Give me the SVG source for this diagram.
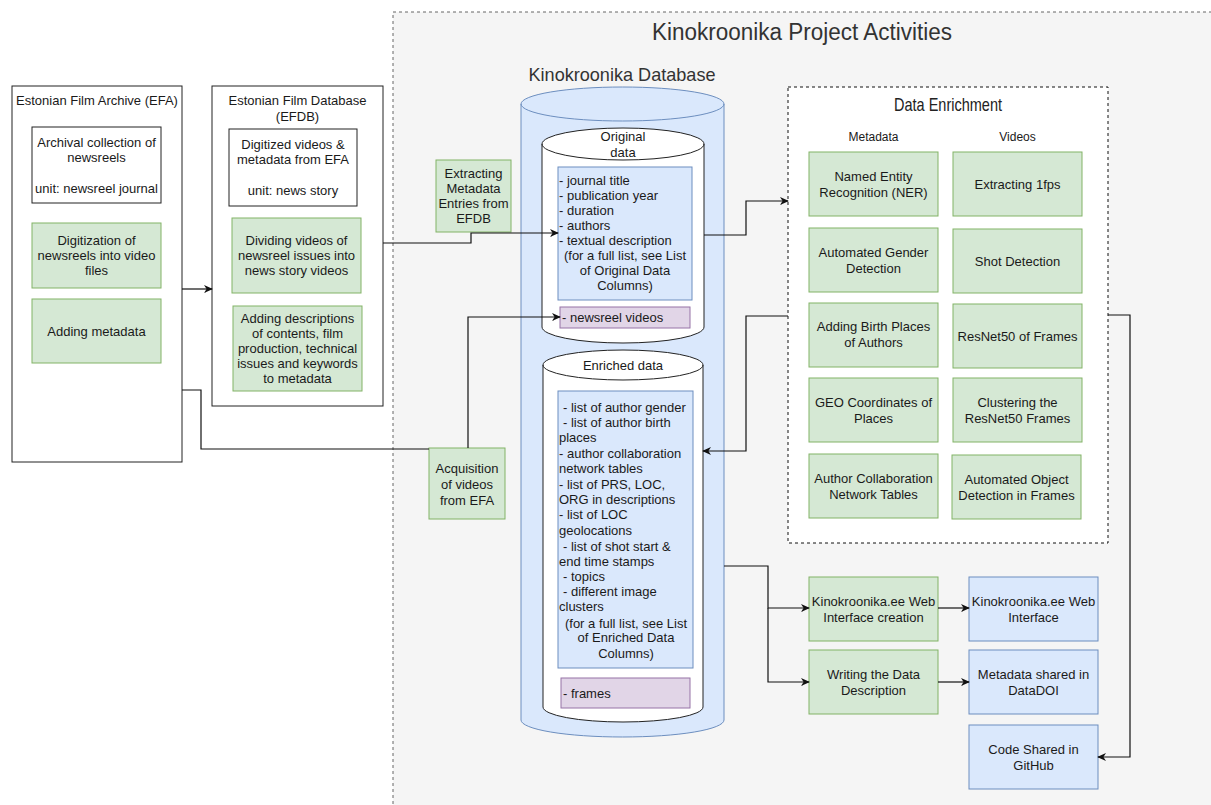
<svg xmlns="http://www.w3.org/2000/svg" width="1211" height="805" viewBox="0 0 1211 805">
<defs>
<style>
.t{font-family:"Liberation Sans",Arial,sans-serif;font-size:13px;fill:#1a1a1a;text-anchor:middle}
.l{text-anchor:start}
.green{fill:#d5e8d4;stroke:#82b366;stroke-width:1}
.blue{fill:#dae8fc;stroke:#6c8ebf;stroke-width:1}
.purple{fill:#e1d5e7;stroke:#9673a6;stroke-width:1}
.plain{fill:#ffffff;stroke:#222;stroke-width:1}
.conn{fill:none;stroke:#111;stroke-width:1.2}
.arr{marker-end:url(#ah)}
</style>
<marker id="ah" viewBox="0 0 10 10" refX="9" refY="5" markerWidth="9" markerHeight="9" markerUnits="userSpaceOnUse" orient="auto">
<path d="M0,0.5 L10,5 L0,9.5 L3,5 Z" fill="#111"/>
</marker>
</defs>
<rect x="0" y="0" width="1211" height="805" fill="#ffffff"/>

<g id="project-activities">
<rect x="393" y="12" width="840" height="810" fill="#f5f5f5" stroke="#666" stroke-dasharray="3 3"/>
<text class="t" x="802" y="40" textLength="300" lengthAdjust="spacingAndGlyphs" style="font-size:23px;fill:#333">Kinokroonika Project Activities</text>
</g>

<g id="efa">
<rect class="plain" x="12" y="86" width="170" height="376"/>
<text class="t" x="97" y="105">Estonian Film Archive (EFA)</text>
</g>
<g id="efa-collection">
<rect class="plain" x="32" y="127" width="129" height="76"/>
<text class="t" x="96.5" y="147">Archival collection of</text>
<text class="t" x="96.5" y="162">newsreels</text>
<text class="t" x="96.5" y="193">unit: newsreel journal</text>
</g>
<g id="efa-digitization">
<rect class="green" x="32" y="223" width="129" height="65"/>
<text class="t" x="96.5" y="245">Digitization of</text>
<text class="t" x="96.5" y="260">newsreels into video</text>
<text class="t" x="96.5" y="275">files</text>
</g>
<g id="efa-metadata">
<rect class="green" x="32" y="299" width="129" height="64"/>
<text class="t" x="96.5" y="336">Adding metadata</text>
</g>

<g id="efdb">
<rect class="plain" x="212" y="86" width="171" height="320"/>
<text class="t" x="297.5" y="105">Estonian Film Database</text>
<text class="t" x="297.5" y="121">(EFDB)</text>
</g>
<g id="efdb-digitized">
<rect class="plain" x="229" y="129" width="128" height="77"/>
<text class="t" x="293" y="149">Digitized videos &amp;</text>
<text class="t" x="293" y="164">metadata from EFA</text>
<text class="t" x="293" y="195">unit: news story</text>
</g>
<g id="efdb-dividing">
<rect class="green" x="232" y="218" width="129" height="75"/>
<text class="t" x="296.5" y="245">Dividing videos of</text>
<text class="t" x="296.5" y="260">newsreel issues into</text>
<text class="t" x="296.5" y="275">news story videos</text>
</g>
<g id="efdb-descriptions">
<rect class="green" x="233" y="306" width="129" height="85"/>
<text class="t" x="297.5" y="323">Adding descriptions</text>
<text class="t" x="297.5" y="338">of contents, film</text>
<text class="t" x="297.5" y="353">production, technical</text>
<text class="t" x="297.5" y="368">issues and keywords</text>
<text class="t" x="297.5" y="383">to metadata</text>
</g>

<g id="extracting">
<rect class="green" x="436" y="160" width="75" height="72"/>
<text class="t" x="473.5" y="178">Extracting</text>
<text class="t" x="473.5" y="193">Metadata</text>
<text class="t" x="473.5" y="208">Entries from</text>
<text class="t" x="473.5" y="223">EFDB</text>
</g>
<g id="acquisition">
<rect class="green" x="429" y="448" width="76" height="71"/>
<text class="t" x="467" y="473">Acquisition</text>
<text class="t" x="467" y="489">of videos</text>
<text class="t" x="467" y="505">from EFA</text>
</g>

<g id="kinokroonika-database">
<text class="t" x="622" y="81" textLength="187" lengthAdjust="spacingAndGlyphs" style="font-size:19px;fill:#333">Kinokroonika Database</text>
<path d="M521,104 A101.5,17 0 0 1 724,104 L724,720 A101.5,17 0 0 1 521,720 Z" fill="#dae8fc" stroke="#6c8ebf"/>
<path d="M521,104 A101.5,17 0 0 0 724,104" fill="none" stroke="#6c8ebf"/>
</g>

<g id="original-data">
<path d="M542,144 A81,16 0 0 1 704,144 L704,327 A81,16 0 0 1 542,327 Z" fill="#fff" stroke="#222"/>
<path d="M542,144 A81,16 0 0 0 704,144" fill="none" stroke="#222"/>
<text class="t" x="623" y="141">Original</text>
<text class="t" x="623" y="157">data</text>
<rect class="blue" x="558" y="167" width="134" height="133"/>
<text class="t l" x="559" y="185">- journal title</text>
<text class="t l" x="559" y="200">- publication year</text>
<text class="t l" x="559" y="215">- duration</text>
<text class="t l" x="559" y="230">- authors</text>
<text class="t l" x="559" y="245">- textual description</text>
<text class="t" x="625" y="260">(for a full list, see List</text>
<text class="t" x="625" y="275">of Original Data</text>
<text class="t" x="625" y="290">Columns)</text>
<rect class="purple" x="560" y="307" width="130" height="21"/>
<text class="t l" x="562" y="322">- newsreel videos</text>
</g>

<g id="enriched-data">
<path d="M543,365 A80,15 0 0 1 703,365 L703,707 A80,15 0 0 1 543,707 Z" fill="#fff" stroke="#222"/>
<path d="M543,365 A80,15 0 0 0 703,365" fill="none" stroke="#222"/>
<text class="t" x="623" y="370">Enriched data</text>
<rect class="blue" x="558" y="391" width="135" height="277"/>
<text class="t l" x="563" y="412">- list of author gender</text>
<text class="t l" x="563" y="427">- list of author birth</text>
<text class="t l" x="559" y="442">places</text>
<text class="t l" x="559" y="458">- author collaboration</text>
<text class="t l" x="559" y="473">network tables</text>
<text class="t l" x="559" y="489">- list of PRS, LOC,</text>
<text class="t l" x="559" y="504">ORG in descriptions</text>
<text class="t l" x="559" y="519">- list of LOC</text>
<text class="t l" x="559" y="535">geolocations</text>
<text class="t l" x="563" y="551">- list of shot start &amp;</text>
<text class="t l" x="559" y="566">end time stamps</text>
<text class="t l" x="563" y="581">- topics</text>
<text class="t l" x="563" y="596">- different image</text>
<text class="t l" x="559" y="611">clusters</text>
<text class="t" x="626" y="628">(for a full list, see List</text>
<text class="t" x="626" y="642">of Enriched Data</text>
<text class="t" x="626" y="658">Columns)</text>
<rect class="purple" x="561" y="678" width="129" height="30"/>
<text class="t l" x="563" y="698">- frames</text>
</g>

<g id="data-enrichment">
<rect x="788" y="87" width="320" height="456" fill="#ffffff" stroke="#111" stroke-dasharray="3 3"/>
<text class="t" x="948" y="111" textLength="108" lengthAdjust="spacingAndGlyphs" style="font-size:19px;fill:#222">Data Enrichment</text>
<text class="t" x="873.5" y="141" style="font-size:12px">Metadata</text>
<text class="t" x="1017.5" y="141" style="font-size:12px">Videos</text>
</g>
<g id="ner"><rect class="green" x="809" y="152" width="129" height="64"/>
<text class="t" x="873.5" y="181">Named Entity</text><text class="t" x="873.5" y="197">Recognition (NER)</text></g>
<g id="gender"><rect class="green" x="809" y="228" width="129" height="64"/>
<text class="t" x="873.5" y="257">Automated Gender</text><text class="t" x="873.5" y="273">Detection</text></g>
<g id="birthplaces"><rect class="green" x="809" y="303" width="129" height="64"/>
<text class="t" x="873.5" y="331">Adding Birth Places</text><text class="t" x="873.5" y="347">of Authors</text></g>
<g id="geo"><rect class="green" x="809" y="378" width="129" height="64"/>
<text class="t" x="873.5" y="407">GEO Coordinates of</text><text class="t" x="873.5" y="423">Places</text></g>
<g id="collab"><rect class="green" x="809" y="454" width="129" height="64"/>
<text class="t" x="873.5" y="483">Author Collaboration</text><text class="t" x="873.5" y="499">Network Tables</text></g>
<g id="fps"><rect class="green" x="953" y="152" width="129" height="64"/>
<text class="t" x="1017.5" y="189">Extracting 1fps</text></g>
<g id="shot"><rect class="green" x="953" y="229" width="129" height="64"/>
<text class="t" x="1017.5" y="266">Shot Detection</text></g>
<g id="resnet"><rect class="green" x="953" y="304" width="129" height="64"/>
<text class="t" x="1017.5" y="341">ResNet50 of Frames</text></g>
<g id="clustering"><rect class="green" x="953" y="378" width="129" height="64"/>
<text class="t" x="1017.5" y="407">Clustering the</text><text class="t" x="1017.5" y="423">ResNet50 Frames</text></g>
<g id="objects"><rect class="green" x="952" y="455" width="129" height="64"/>
<text class="t" x="1016.5" y="484">Automated Object</text><text class="t" x="1016.5" y="500">Detection in Frames</text></g>

<g id="web-creation"><rect class="green" x="809" y="577" width="129" height="64"/>
<text class="t" x="873.5" y="606">Kinokroonika.ee Web</text><text class="t" x="873.5" y="622">Interface creation</text></g>
<g id="data-description"><rect class="green" x="809" y="650" width="129" height="64"/>
<text class="t" x="873.5" y="679">Writing the Data</text><text class="t" x="873.5" y="695">Description</text></g>
<g id="web-interface"><rect class="blue" x="969" y="577" width="129" height="64"/>
<text class="t" x="1033.5" y="606">Kinokroonika.ee Web</text><text class="t" x="1033.5" y="622">Interface</text></g>
<g id="datadoi"><rect class="blue" x="969" y="650" width="129" height="64"/>
<text class="t" x="1033.5" y="679">Metadata shared in</text><text class="t" x="1033.5" y="695">DataDOI</text></g>
<g id="github"><rect class="blue" x="969" y="725" width="129" height="64"/>
<text class="t" x="1033.5" y="754">Code Shared in</text><text class="t" x="1033.5" y="770">GitHub</text></g>

<g id="connectors">
<path class="conn arr" d="M182,289 H212"/>
<path class="conn" d="M182,390 H201 V449 H429"/>
<path class="conn arr" d="M468,448 V317 H560"/>
<path class="conn arr" d="M383,243 H471 V233 H558"/>
<path class="conn arr" d="M704,235 H746 V201 H788"/>
<path class="conn arr" d="M788,316 H746 V451 H703"/>
<path class="conn arr" d="M1108,315 H1130 V757 H1098"/>
<path class="conn arr" d="M724,566 H768 V608 H809"/>
<path class="conn arr" d="M768,608 V682 H809"/>
<path class="conn arr" d="M938,608 H969"/>
<path class="conn arr" d="M938,682 H969"/>
</g>
</svg>
